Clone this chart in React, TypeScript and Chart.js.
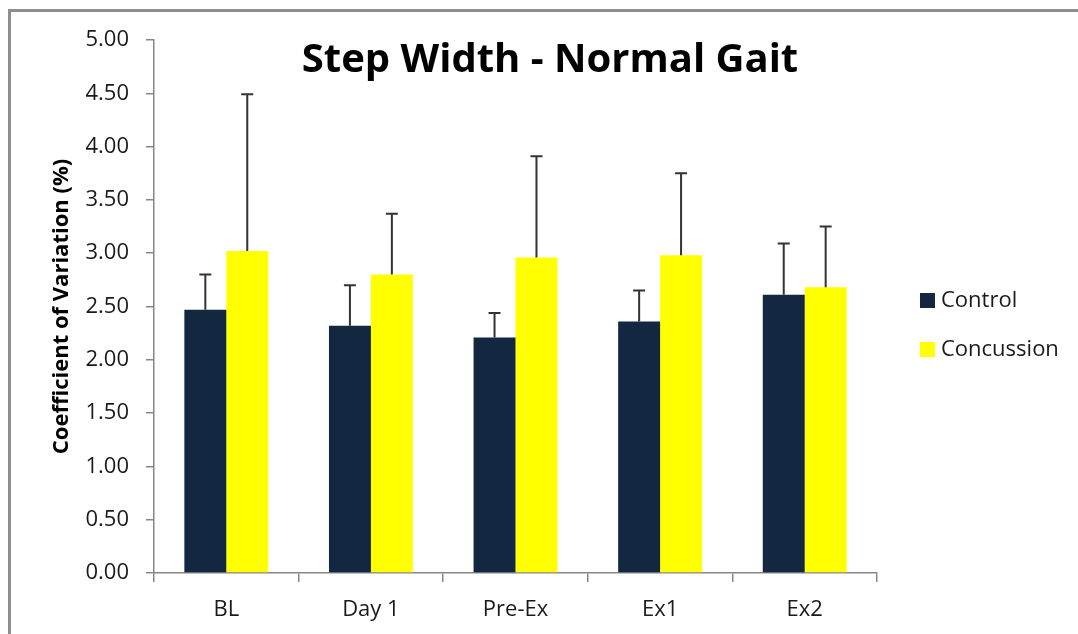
import React, { useEffect, useRef } from "react";
import { Chart, registerables } from "chart.js";

Chart.register(...registerables);

const chartTitle = "Step Width - Normal Gait";
const yAxisTitle = "Coefficient of Variation (%)";
const categories = ["BL", "Day 1", "Pre-Ex", "Ex1", "Ex2"];
const seriesNames = ["Control", "Concussion"];
const controlValues = [2.47, 2.32, 2.21, 2.36, 2.61];
const controlErrors = [0.33, 0.38, 0.23, 0.29, 0.48];
const concussionValues = [3.02, 2.8, 2.96, 2.98, 2.68];
const concussionErrors = [1.47, 0.57, 0.95, 0.77, 0.57];
const yTickValues = [0, 0.5, 1, 1.5, 2, 2.5, 3, 3.5, 4, 4.5, 5];

const FONT = "'Open Sans', sans-serif";
const AXIS_GRAY = "#868686";
const TEXT = "#1a1a1a";

const frameBorderPlugin = {
  id: "frameBorder",
  beforeDraw(chart: any) {
    const ctx = chart.ctx;
    ctx.save();
    ctx.strokeStyle = "#8e8e8e";
    ctx.lineWidth = 3;
    ctx.beginPath();
    ctx.moveTo(9.5, chart.height + 5);
    ctx.lineTo(9.5, 10.5);
    ctx.lineTo(chart.width + 5, 10.5);
    ctx.stroke();
    ctx.restore();
  },
};

const errorBarPlugin = {
  id: "errorBars",
  afterDatasetsDraw(chart: any) {
    const ctx = chart.ctx;
    const yScale = chart.scales.y;
    chart.data.datasets.forEach((ds: any, i: number) => {
      const meta = chart.getDatasetMeta(i);
      const errs: number[] = ds.errors || [];
      meta.data.forEach((bar: any, j: number) => {
        const v = ds.data[j];
        const e = errs[j] || 0;
        const yTop = yScale.getPixelForValue(v + e);
        const x = bar.x;
        ctx.save();
        ctx.strokeStyle = "#333333";
        ctx.lineWidth = 2;
        ctx.beginPath();
        ctx.moveTo(x, bar.y);
        ctx.lineTo(x, yTop);
        ctx.moveTo(x - 6, yTop);
        ctx.lineTo(x + 6, yTop);
        ctx.stroke();
        ctx.restore();
      });
    });
  },
};

const titlePlugin = {
  id: "floatingTitle",
  afterDraw(chart: any) {
    const ctx = chart.ctx;
    ctx.save();
    ctx.font = `bold 40px ${FONT}`;
    ctx.fillStyle = "#000";
    ctx.textAlign = "center";
    ctx.textBaseline = "middle";
    ctx.fillText(chartTitle, 550, 61);
    ctx.restore();
  },
};

const sideLegendPlugin = {
  id: "sideLegend",
  afterDraw(chart: any) {
    const ctx = chart.ctx;
    ctx.save();
    ctx.font = `22px ${FONT}`;
    ctx.textAlign = "left";
    ctx.textBaseline = "middle";
    chart.data.datasets.forEach((ds: any, i: number) => {
      const cy = 301 + i * 49;
      ctx.fillStyle = ds.backgroundColor;
      ctx.fillRect(920, cy - 8, 15, 15);
      ctx.fillStyle = TEXT;
      ctx.fillText(ds.label, 941, cy);
    });
    ctx.restore();
  },
};

export default function App() {
  const canvasRef = useRef<HTMLCanvasElement | null>(null);

  useEffect(() => {
    if (!canvasRef.current) return;
    const chart = new Chart(canvasRef.current, {
      type: "bar",
      data: {
        labels: categories,
        datasets: [
          {
            label: seriesNames[0],
            data: controlValues,
            errors: controlErrors,
            backgroundColor: "#132740",
            categoryPercentage: 0.58,
            barPercentage: 1,
          } as any,
          {
            label: seriesNames[1],
            data: concussionValues,
            errors: concussionErrors,
            backgroundColor: "#FFFF00",
            categoryPercentage: 0.58,
            barPercentage: 1,
          } as any,
        ],
      },
      options: {
        animation: false,
        responsive: false,
        maintainAspectRatio: false,
        layout: { padding: { left: 0, top: 40, right: 201, bottom: 0 } },
        plugins: {
          legend: { display: false },
          title: { display: false },
          tooltip: { enabled: false },
        },
        scales: {
          x: {
            type: "category",
            grid: {
              display: true,
              drawOnChartArea: false,
              drawTicks: true,
              tickLength: 9,
              color: AXIS_GRAY,
              lineWidth: 1.5,
              offset: true,
            },
            border: { display: true, color: AXIS_GRAY, width: 1.5 },
            ticks: {
              color: TEXT,
              font: { family: FONT, size: 22 },
              padding: 15,
              maxRotation: 0,
            },
            afterFit(scale: any) {
              scale.height = 61;
            },
          },
          y: {
            min: 0,
            max: 5,
            afterBuildTicks(scale: any) {
              scale.ticks = yTickValues.map((v) => ({ value: v }));
            },
            ticks: {
              color: TEXT,
              font: { family: FONT, size: 22 },
              padding: 17,
              callback: (v: any) => Number(v).toFixed(2),
            },
            grid: {
              display: true,
              drawOnChartArea: false,
              drawTicks: true,
              tickLength: 8,
              color: AXIS_GRAY,
              lineWidth: 1.5,
            },
            border: { display: true, color: AXIS_GRAY, width: 1.5 },
            title: {
              display: true,
              text: yAxisTitle,
              color: "#000",
              font: { family: FONT, size: 22, weight: "bold" },
              padding: { top: 49, bottom: 0 },
            },
            afterFit(scale: any) {
              scale.width = 154;
            },
          },
        },
      } as any,
      plugins: [frameBorderPlugin, errorBarPlugin, titlePlugin, sideLegendPlugin],
    });
    return () => chart.destroy();
  }, []);

  return (
    <div
      style={{
        position: "fixed",
        left: 0,
        top: 0,
        width: 1078,
        height: 634,
        background: "#fff",
        overflow: "hidden",
      }}
    >
      <canvas
        ref={canvasRef}
        width={1078}
        height={634}
        style={{ position: "absolute", left: 0, top: 0, width: 1078, height: 634 }}
      />
    </div>
  );
}
